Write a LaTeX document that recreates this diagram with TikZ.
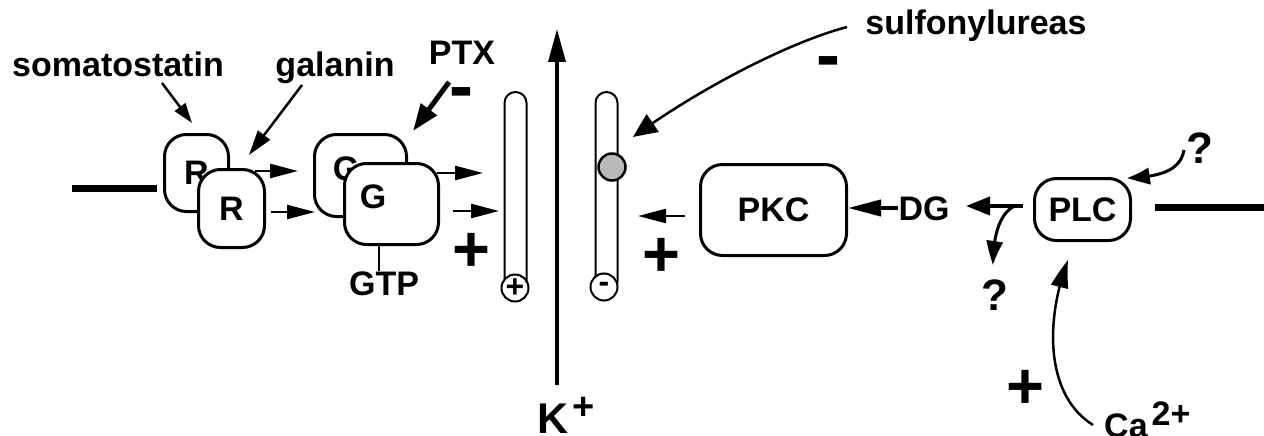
\documentclass[tikz,border=0pt]{standalone}
\usepackage{fontspec}
\setmainfont{Liberation Sans}
\usetikzlibrary{arrows.meta,bending}
\begin{document}
\begin{tikzpicture}[x=1pt,y=-1pt,
  lbl/.style={font=\fontsize{34}{36}\selectfont\bfseries, inner sep=0pt, anchor=base},
  qm/.style={font=\fontsize{44}{46}\selectfont\bfseries, inner sep=0pt, anchor=base},
  sign/.style={font=\fontsize{65}{66}\selectfont\bfseries, inner sep=0pt},
  minsign/.style={font=\fontsize{72}{72}\selectfont\bfseries, inner sep=0pt},
  box/.style={draw, line width=3pt, rounded corners=22pt, fill=white, inner sep=0pt, font=\fontsize{34}{36}\selectfont\bfseries},
  chan/.style={draw, line width=2pt, rounded corners=11pt, minimum width=22pt, minimum height=200pt, inner sep=0pt},
  pore/.style={circle, draw, line width=2pt, fill=white, minimum size=27pt, inner sep=0pt, font=\fontsize{32}{32}\selectfont\bfseries},
  arr/.style={line width=2.5pt, -{Triangle[length=28pt,width=14pt]}},
  memb/.style={line width=7pt},
]
\useasboundingbox (0,0) rectangle (1264,436);

% labels
\node[lbl] (som) at (118,77) {somatostatin};
\node[lbl] (gal) at (335,77) {galanin};
\node[lbl] (ptx) at (462,65) {PTX};
\node[lbl] (sulf) at (976,35) {sulfonylureas};

% membrane lines
\coordinate (mL1) at (72,188);
\coordinate (mL2) at (157,188);
\draw[memb] (mL1) -- (mL2);
\coordinate (mR1) at (1155,207);
\coordinate (mR2) at (1264,207);
\draw[memb] (mR1) -- (mR2);

% receptors
\node[box, minimum width=64pt, minimum height=77pt] (R1) at (196.5,173) {R};
\node[box, minimum width=66pt, minimum height=78pt] (R2) at (231.5,208.5) {R};

% G proteins
\node[box, minimum width=92pt, minimum height=82pt] (G1) at (360.5,175.5) {};
\node[lbl] (G1t) at (346,180) {G};
\node[box, minimum width=94pt, minimum height=81pt] (G2) at (391.5,204) {};
\node[lbl] (G2t) at (373,208) {G};
\node[lbl] (gtp) at (384,295) {GTP};
\draw[line width=2.5pt] ([xshift=-12.5pt]G2.south) -- ([xshift=-5pt]gtp.north);

% agonist arrows
\coordinate (somA) at (162,83);
\coordinate (somB) at (192,123);
\draw[line width=2.5pt, -{Triangle[length=20pt,width=13pt]}] (somA) -- (somB);
\coordinate (galA) at (302,85);
\coordinate (galB) at (249,155);
\draw[line width=2.5pt, -{Triangle[length=25pt,width=15pt]}] (galA) -- (galB);
\coordinate (ptxA) at (449,82);
\coordinate (ptxB) at (413,131);
\draw[line width=5pt, -{Triangle[length=27pt,width=19pt]}] (ptxA) -- (ptxB);
\node[minsign] (ptxm) at (461,99) {-};

% R -> G
\coordinate (rg1) at (255,171);
\coordinate (rg1b) at (298,171);
\draw[arr] (rg1) -- (rg1b);
\coordinate (rg2) at (271,212);
\coordinate (rg2b) at (315,212);
\draw[arr] (rg2) -- (rg2b);

% channels
\node[chan] (chL) at (515.5,192) {};
\node[pore] (pL) at (515,288) {+};
\node[chan] (chR) at (606.5,192) {};
\node[pore] (pR) at (604,287) {-};
\node[circle, draw, line width=2.5pt, fill=gray!55, minimum size=27pt, inner sep=0pt] (sur) at (612,167) {};

% G -> channel
\coordinate (gc1) at (437,173);
\coordinate (gc1b) at (483,173);
\draw[arr] (gc1) -- (gc1b);
\coordinate (gc2) at (453,211);
\coordinate (gc2b) at (499,211);
\draw[arr] (gc2) -- (gc2b);
\node[sign] (plusL) at (471,252) {+};

% K+ flux
\node[font=\fontsize{43}{46}\selectfont\bfseries, inner sep=0pt, anchor=base west] (K) at (537,433) {K\hspace{4pt}\raisebox{14pt}{\fontsize{38}{40}\selectfont +}};
\coordinate (kb) at (557,385);
\coordinate (kt) at (557,29);
\draw[line width=3.5pt, -{Triangle[length=33pt,width=17pt]}] (kb) -- (kt);

% sulfonylureas
\coordinate (sfA) at (847,27);
\coordinate (sfB) at (633,137);
\draw[line width=2.5pt, -{Triangle[length=24pt,width=21pt,bend]}] (sfA) .. controls (790,42) and (700,88) .. (sfB);
\node[minsign] (sfm) at (828,68) {-};

% PKC
\node[box, minimum width=146pt, minimum height=91pt] (PKC) at (773.5,210) {PKC};
\coordinate (pk1) at (685,216);
\coordinate (pk1b) at (638,216);
\draw[arr] (pk1) -- (pk1b);
\node[sign] (plusR) at (661,257) {+};

% DG
\node[lbl] (DG) at (924,220) {DG};
\draw[line width=4pt, -{Triangle[length=33pt,width=16pt]}] ([yshift=12pt]DG.base west) -- ([yshift=2pt]PKC.east);

% PLC
\node[box, minimum width=96pt, minimum height=62pt] (PLC) at (1082.5,209.5) {PLC};
\coordinate (plA) at (1023,206);
\coordinate (plB) at (966,206);
\draw[line width=4pt, -{Triangle[length=24pt,width=18pt]}] (plA) -- (plB);
\coordinate (brA) at (1013,207);
\coordinate (brB) at (993,265);
\draw[line width=3pt, -{Triangle[length=25pt,width=16pt,bend]}] (brA) .. controls (1000,214) and (993,235) .. (brB);
\node[qm] (q1) at (995,310) {?};

\node[qm] (q2) at (1200,163) {?};
\coordinate (qA) at (1184,150);
\coordinate (qB) at (1127,178);
\draw[line width=3pt, -{Triangle[length=24pt,width=16pt,bend]}] (qA) .. controls (1181,168) and (1165,177) .. (qB);

% Ca2+
\node[font=\fontsize{34}{36}\selectfont\bfseries, inner sep=0pt, anchor=base west] (Ca) at (1104,437) {Ca\hspace{4pt}\raisebox{12pt}{2+}};
\coordinate (caA) at (1093,425);
\coordinate (caB) at (1068,260);
\draw[line width=2.5pt, -{Triangle[length=28pt,width=17pt,bend]}] (caA) .. controls (1045,395) and (1045,320) .. (caB);
\node[sign] (plusCa) at (1025,389) {+};

\end{tikzpicture}
\end{document}
